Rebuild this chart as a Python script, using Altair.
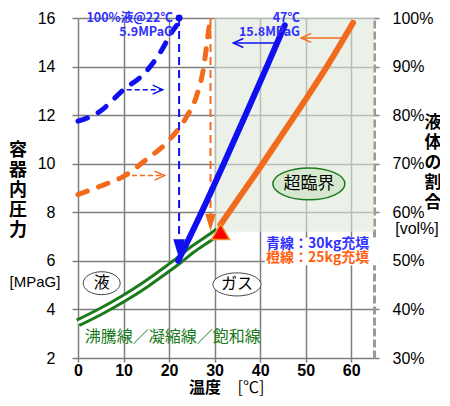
import altair as alt
import pandas as pd

# saturation line of CO2 (boiling / condensation)
sat_temp = [0, 5, 10, 15, 20, 22, 25, 30, 30.8]
sat_press = [3.45, 3.92, 4.45, 5.05, 5.72, 6.0, 6.45, 7.1, 7.22]

# 30kg filled (blue): liquid part dashed, gas part solid
blue_liq_temp = [0, 4.8, 10, 14.3, 18, 20.9, 21.7]
blue_liq_press = [11.75, 12.15, 13.05, 13.67, 14.56, 15.5, 15.7]
blue_gas_temp = [22, 27, 32, 37, 41, 45.4]
blue_gas_press = [6.0, 7.95, 10.0, 12.1, 13.8, 15.7]

# 25kg filled (orange)
orange_liq_temp = [0, 4.8, 10, 15, 20.1, 23.9, 26, 27.5, 28.6, 29.0]
orange_liq_press = [8.73, 9.07, 9.48, 10.17, 10.99, 11.95, 12.77, 13.87, 15.38, 15.93]
orange_gas_temp = [31.3, 35, 40, 45, 50, 55, 60.4]
orange_gas_press = [7.5, 8.5, 9.85, 11.25, 12.65, 14.1, 15.8]

# critical point and supercritical zone
crit_temp = [31.3]
crit_press = [7.2]
super_temp = [30, 65]
super_press = [7.2, 16]

x_ticks = [0, 10, 20, 30, 40, 50, 60]
y_ticks = [2, 4, 6, 8, 10, 12, 14, 16]
pct_ticks = [30, 40, 50, 60, 70, 80, 90, 100]

JP = "Noto Sans CJK JP"
LAT = "Liberation Sans"
BLUE = "#0f0ff0"
BLUE_TXT = "#3030ff"
ORANGE = "#f26a1b"
ORANGE_TXT = "#ff6010"
GREEN = "#1b7a1b"
GRID = "#7f7f7f"

SX = alt.Scale(domain=[0, 65], nice=False, zero=False)
SY = alt.Scale(domain=[2, 16], nice=False, zero=False)
AX_X = alt.Axis(values=x_ticks, grid=True, gridColor=GRID, gridWidth=1.5, domain=False,
                tickColor=GRID, tickWidth=1.5, tickSize=4, labelFont=LAT, labelFontSize=16,
                labelFontWeight="bold", labelColor="black", labelPadding=0, labelFlush=False,
                title=None)
AX_Y = alt.Axis(values=y_ticks, grid=True, gridColor=GRID, gridWidth=1.5, domain=False,
                tickColor=GRID, tickWidth=1.5, tickSize=6, labelFont=LAT, labelFontSize=16,
                labelColor="black", labelPadding=17, labelFlush=False, title=None)
ONE = alt.Data(values=[{}])

CHEV_R = "M -1 -0.9 L 1 0 L -1 0.9"
CHEV_L = "M 1 -0.9 L -1 0 L 1 0.9"
ARROW_DOWN = "M -0.6 -1 L 0 1 L 0.6 -1 Z"


def frame(t, p):
    return pd.DataFrame({"t": t, "p": p})


def xq(f="t"):
    return alt.X(f, type="quantitative", scale=SX, axis=AX_X)


def yq(f="p"):
    return alt.Y(f, type="quantitative", scale=SY, axis=AX_Y)


def xd(v):
    return alt.XDatum(v, type="quantitative", scale=SX, axis=AX_X)


def yd(v):
    return alt.YDatum(v, type="quantitative", scale=SY, axis=AX_Y)


def ellipse(ratio):
    k = 0.5523
    r = ratio
    return (f"M -1 0 C -1 {-k*r:.3f} {-k} {-r} 0 {-r} "
            f"C {k} {-r} 1 {-k*r:.3f} 1 0 "
            f"C 1 {k*r:.3f} {k} {r} 0 {r} "
            f"C {-k} {r} -1 {k*r:.3f} -1 0 Z")


def note(text, t, p, color="black", size=14, weight="normal", align="center", font=JP):
    return alt.Chart(ONE).mark_text(
        text=text, color=color, fontSize=size, fontWeight=weight,
        align=align, baseline="middle", font=font
    ).encode(x=xd(t), y=yd(p))


def page_text(text, x, y, size=16, weight="normal", font=JP, line=20):
    # x, y in pixels from the plot's top-left corner (for titles outside the plot)
    return alt.Chart(ONE).mark_text(
        text=text, fontSize=size, fontWeight=weight, font=font, color="black",
        align="center", baseline="middle", lineHeight=line
    ).encode(x=alt.value(x), y=alt.value(y))


def mark_at(t, p, shape, size, color, filled=True, width=1.5):
    kw = dict(shape=shape, size=size, opacity=1, strokeWidth=width, stroke=color)
    if filled:
        kw.update(fill=color)
    else:
        kw.update(filled=False)
    return alt.Chart(ONE).mark_point(**kw).encode(x=xd(t), y=yd(p))


def hrule(t1, t2, p, color, dash=None):
    kw = dict(color=color, strokeWidth=1.5)
    if dash:
        kw["strokeDash"] = dash
    return alt.Chart(ONE).mark_rule(**kw).encode(x=xd(t1), x2=alt.X2Datum(t2), y=yd(p))


def vrule(t, p1, p2, color):
    return alt.Chart(ONE).mark_rule(color=color, strokeWidth=2, strokeDash=[8, 5]).encode(
        x=xd(t), y=yd(p1), y2=alt.Y2Datum(p2))


zone = alt.Chart(pd.DataFrame({"t": [super_temp[0]], "t2": [super_temp[1]],
                               "p": [super_press[0]], "p2": [super_press[1]]})).mark_rect(
    color="#dee8d9", opacity=0.6
).encode(x=xq(), x2="t2:Q", y=yq(), y2="p2:Q")

# white box behind the legend text (hides grid and the dashed right edge)
legend_box = alt.Chart(ONE).mark_rect(color="white", opacity=1).encode(
    x=xd(41.0), x2=alt.X2Datum(66.2), y=yd(5.82), y2=alt.Y2Datum(6.95))

sat = frame(sat_temp, sat_press)
sat_outer = alt.Chart(sat).mark_line(color=GREEN, strokeWidth=9, interpolate="monotone").encode(x=xq(), y=yq())
sat_inner = alt.Chart(sat).mark_line(color="white", strokeWidth=3, interpolate="monotone").encode(x=xq(), y=yq())

blue_liq = alt.Chart(frame(blue_liq_temp, blue_liq_press)).mark_line(
    color=BLUE, strokeWidth=5, strokeDash=[10, 12], strokeCap="round", interpolate="monotone"
).encode(x=xq(), y=yq())
orange_liq = alt.Chart(frame(orange_liq_temp, orange_liq_press)).mark_line(
    color=ORANGE, strokeWidth=5, strokeDash=[10, 12], strokeCap="round", interpolate="monotone"
).encode(x=xq(), y=yq())
blue_gas = alt.Chart(frame(blue_gas_temp, blue_gas_press)).mark_line(
    color=BLUE, strokeWidth=6, strokeCap="round", interpolate="monotone"
).encode(x=xq(), y=yq())
orange_gas = alt.Chart(frame(orange_gas_temp, orange_gas_press)).mark_line(
    color=ORANGE, strokeWidth=6, strokeCap="round", interpolate="monotone"
).encode(x=xq(), y=yq())

crit = alt.Chart(frame(crit_temp, crit_press)).mark_point(
    shape="triangle-up", size=324, fill="#ff0000", stroke="#f0902a", strokeWidth=1.5, opacity=1
).encode(x=xq(), y=yq())

layers = [
    zone,
    sat_outer, sat_inner,
    blue_liq, orange_liq,
    vrule(22.2, 16, 6.9, BLUE), vrule(29.1, 16, 7.9, ORANGE),
    mark_at(22.2, 6.53, ARROW_DOWN, 256, BLUE),
    mark_at(29.1, 7.61, ARROW_DOWN, 196, ORANGE),
    mark_at(22.2, 16, "circle", 30, BLUE),
    blue_gas, orange_gas,
    crit,
    hrule(10.7, 18.6, 13.05, BLUE, [5, 3]), mark_at(17.5, 13.05, CHEV_R, 100, BLUE, filled=False),
    hrule(10.1, 19.0, 9.51, ORANGE, [5, 3]), mark_at(17.9, 9.51, CHEV_R, 100, ORANGE, filled=False),
    hrule(34.1, 43.3, 14.97, BLUE), mark_at(35.2, 14.97, CHEV_L, 100, BLUE, filled=False),
    hrule(49.0, 58.3, 15.18, ORANGE), mark_at(50.1, 15.18, CHEV_L, 100, ORANGE, filled=False),
    alt.Chart(ONE).mark_point(shape=ellipse(0.444), size=5184, fill="#d6e9d0", stroke=GREEN,
                              strokeWidth=1.5, opacity=1).encode(x=xd(50.7), y=yd(9.17)),
    alt.Chart(ONE).mark_point(shape=ellipse(0.62), size=1369, fill="white", stroke="#444",
                              strokeWidth=1, opacity=1).encode(x=xd(5.2), y=yd(5.08)),
    alt.Chart(ONE).mark_point(shape=ellipse(0.48), size=2304, fill="white", stroke="#444",
                              strokeWidth=1, opacity=1).encode(x=xd(34.9), y=yd(5.03)),
    legend_box,
    note("超臨界", 50.7, 9.17, size=17),
    note("液", 5.2, 5.08, size=16),
    note("ガス", 34.9, 5.03, size=16),
    note("沸騰線／凝縮線／飽和線", 1.5, 2.88, color=GREEN, size=16, align="left"),
    note("青線：30kg充填", 41.3, 6.68, color=BLUE_TXT, size=14, weight="bold", align="left"),
    note("橙線：25kg充填", 41.3, 6.1, color=ORANGE_TXT, size=14, weight="bold", align="left"),
    note("100%液@22℃", 20.86, 16.0, color=BLUE_TXT, size=12.5, weight="bold", align="right"),
    note("5.9MPaG", 20.86, 15.42, color=BLUE_TXT, size=12.5, weight="bold", align="right"),
    note("47℃", 48.75, 16.0, color=BLUE_TXT, size=12.5, weight="bold", align="right"),
    note("15.8MPaG", 48.75, 15.42, color=BLUE_TXT, size=12.5, weight="bold", align="right"),
    # axis titles
    page_text(["容", "器", "内", "圧", "力"], -60, 133, size=18, weight="bold"),
    page_text("[MPaG]", -43, 264, size=15, font=LAT),
    page_text(["液", "体", "の", "割", "合"], 355, 105, size=17, weight="bold"),
    page_text("[vol%]", 339, 211, size=16, font=LAT),
    page_text("温度", 127, 370, size=16, weight="bold"),
    page_text("[℃]", 173, 370, size=16),
]

main = alt.layer(*layers)

right = alt.Chart(pd.DataFrame({"pct": pct_ticks})).mark_point(opacity=0).encode(
    y=alt.Y("pct:Q", scale=alt.Scale(domain=[30, 100], nice=False, zero=False), axis=alt.Axis(
        orient="right", values=pct_ticks, labelExpr="datum.value + '%'",
        domainDash=[8, 3], domainWidth=3, domainColor="#9a9a9a",
        tickColor=GRID, tickWidth=1.5, tickSize=5, labelPadding=13,
        labelFont=LAT, labelFontSize=16, labelColor="black", grid=False, title=None))
)

chart = alt.layer(main, right).resolve_scale(y="independent").properties(
    width=296, height=340,
    autosize=alt.AutoSizeParams(type="none"),
    padding={"left": 70, "top": 10, "right": 66, "bottom": 40},
).configure_view(stroke=None)

chart.save("out.html", embed_options={"renderer": "svg", "actions": False})
